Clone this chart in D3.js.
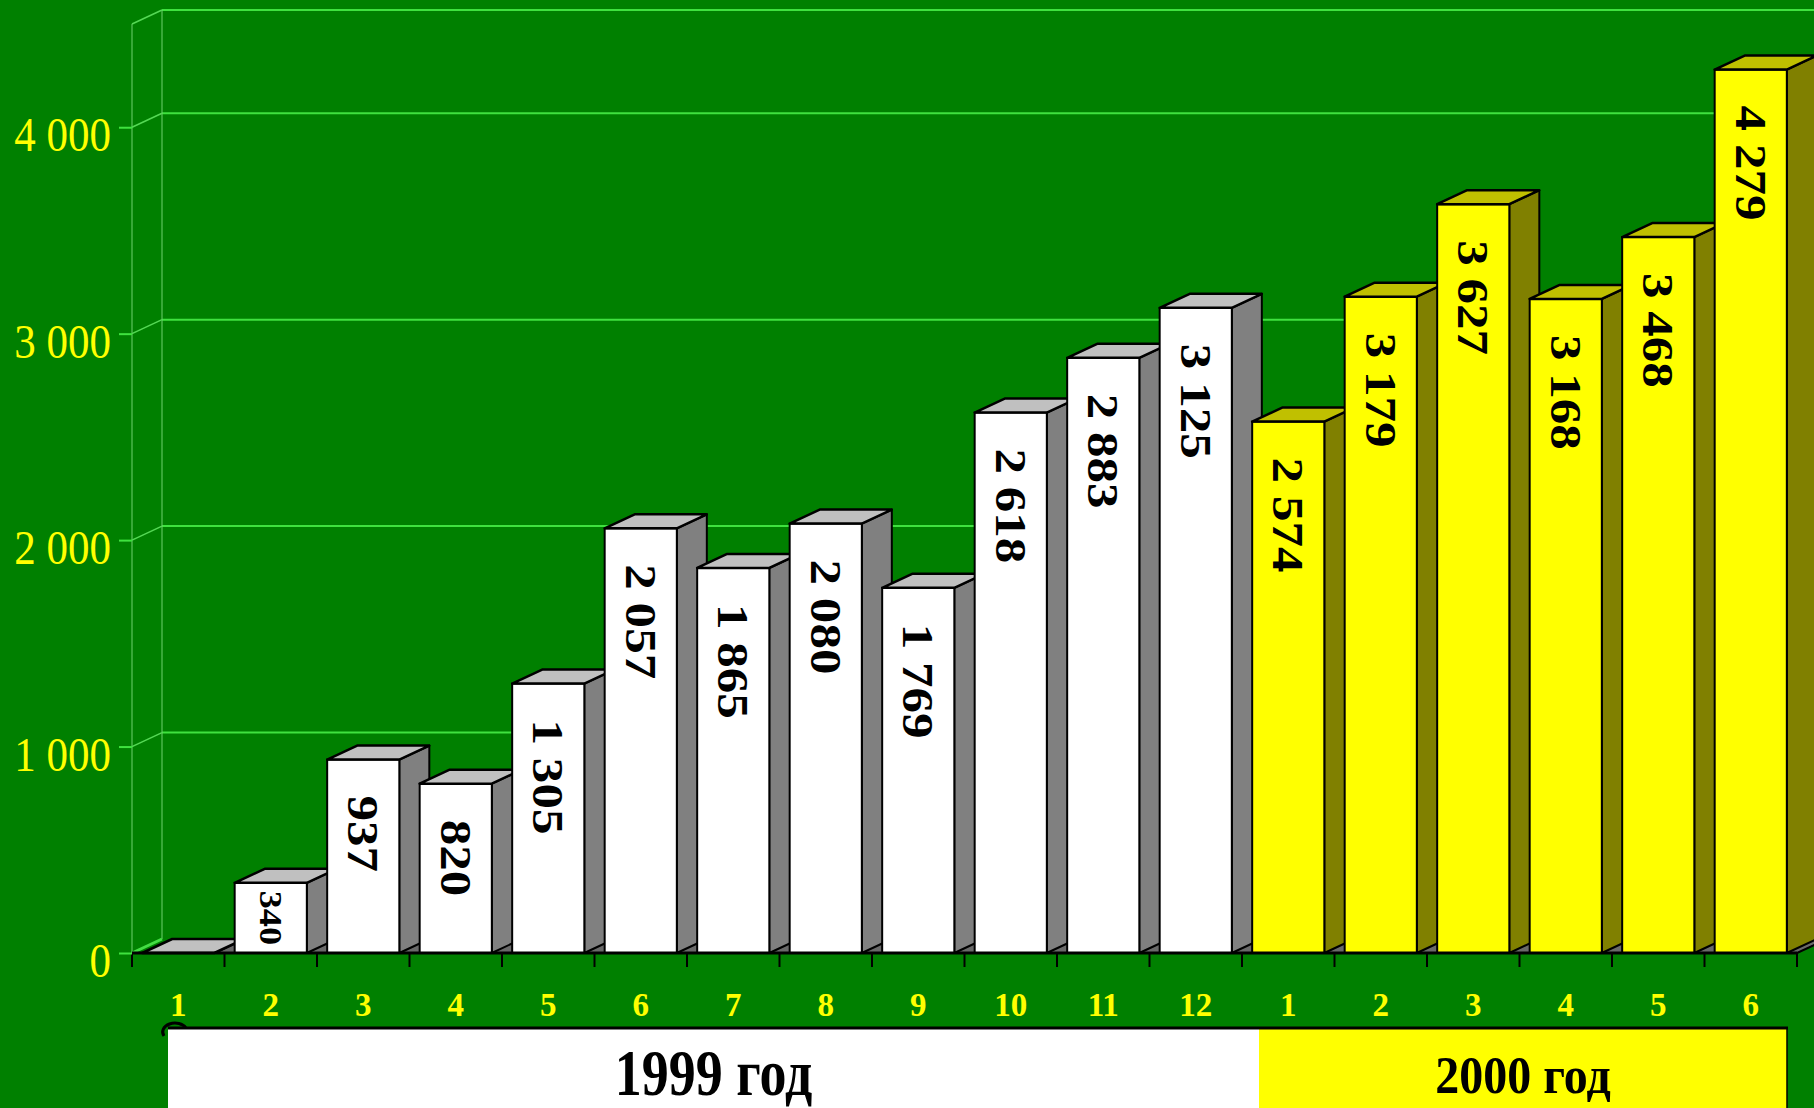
<!DOCTYPE html>
<html>
<head>
<meta charset="utf-8">
<script src="https://cdn.jsdelivr.net/npm/d3@7"></script>
<style>
  html, body { margin: 0; padding: 0; background: #008000; overflow: hidden; }
  svg { display: block; }
</style>
</head>
<body>
<svg id="chart" width="1814" height="1108"></svg>
<script>
// ---------------- DATA ----------------
const months = ["1","2","3","4","5","6","7","8","9","10","11","12","1","2","3","4","5","6"];
const years  = [1999,1999,1999,1999,1999,1999,1999,1999,1999,1999,1999,1999,2000,2000,2000,2000,2000,2000];
const values = [0, 340, 937, 820, 1305, 2057, 1865, 2080, 1769, 2618, 2883, 3125, 2574, 3179, 3627, 3168, 3468, 4279];
const yTicks = [0, 1000, 2000, 3000, 4000];
const yMax = 4500;
const yearLabels = ["1999 год", "2000 год"];

// ---------------- SETUP ----------------
const W = 1814, H = 1108;
const svg = d3.select("#chart");
const FONT = "'Liberation Serif', 'Times New Roman', serif";
const DX = 30, DY = -14;        // 3D depth offset

const x = d3.scaleBand()
  .domain(d3.range(values.length))
  .range([132, 1797])
  .paddingInner(0.22)
  .paddingOuter(0.11);
const y = d3.scaleLinear().domain([0, yMax]).range([953, 24]);

const x0 = x.range()[0], x1 = x.range()[1];
const step = x.step();
const bw = x.bandwidth();
const fmt = d3.formatLocale({decimal: ",", thousands: " ", grouping: [3], currency: ["", ""]}).format(",d");

const palette = {
  1999: {front: "#ffffff", side: "#808080", top: "#c0c0c0"},
  2000: {front: "#ffff00", side: "#808000", top: "#c0c000"}
};

svg.append("rect").attr("width", W).attr("height", H).attr("fill", "#008000");

// ---------------- WALLS / GRID ----------------
const gridVals = yTicks.concat([yMax]);
const walls = svg.append("g");
walls.selectAll("line.grid").data(gridVals.filter(v => v > 0)).join("line")
  .attr("x1", x0 + DX).attr("x2", W)
  .attr("y1", d => y(d) + DY).attr("y2", d => y(d) + DY)
  .attr("stroke", "#3fe23f").attr("stroke-width", 2);
walls.append("line").attr("x1", x0).attr("x2", x0).attr("y1", y(yMax)).attr("y2", y(0))
  .attr("stroke", "#6fd06f").attr("stroke-width", 1);
walls.append("line").attr("x1", x0 + DX).attr("x2", x0 + DX).attr("y1", y(yMax) + DY).attr("y2", y(0) + DY)
  .attr("stroke", "#6fd06f").attr("stroke-width", 1);
walls.selectAll("line.diag").data(gridVals).join("line")
  .attr("x1", x0).attr("x2", x0 + DX)
  .attr("y1", d => y(d)).attr("y2", d => y(d) + DY)
  .attr("stroke", d => d === 0 ? "#44dd44" : "#55d855")
  .attr("stroke-width", d => d === 0 ? 3 : 1.5);

// ---------------- FLOOR ----------------
svg.append("polygon")
  .attr("points", [[x(0), y(0)], [x1, y(0)], [x1 + DX, y(0) + DY], [x(0) + DX, y(0) + DY]].map(p => p.join(",")).join(" "))
  .attr("fill", "#6a6a6a").attr("stroke", "#000").attr("stroke-width", 1);

// ---------------- BARS ----------------
const bars = svg.append("g").selectAll("g.bar").data(values.map((v, i) => ({v, i, yr: years[i]}))).join("g");
const pts = a => a.map(p => p.join(",")).join(" ");
bars.each(function(d) {
  const g = d3.select(this);
  const l = x(d.i), r = l + bw, t = y(d.v), b = y(0);
  const c = palette[d.yr];
  g.append("polygon").attr("points", pts([[r, b], [r + DX, b + DY], [r + DX, t + DY], [r, t]]))
    .attr("fill", c.side).attr("stroke", "#000").attr("stroke-width", 2).attr("stroke-linejoin", "round");
  if (d.v > 0) {
    g.append("rect").attr("x", l).attr("y", t).attr("width", bw).attr("height", b - t)
      .attr("fill", c.front).attr("stroke", "#000").attr("stroke-width", 2);
  }
  g.append("polygon").attr("points", pts([[l, t], [r, t], [r + DX, t + DY], [l + DX, t + DY]]))
    .attr("fill", c.top).attr("stroke", "#000").attr("stroke-width", 2.5).attr("stroke-linejoin", "round");
  if (d.v > 0) {
    const txt = fmt(d.v);
    const em = txt.split("").reduce((s, ch) => s + (ch === " " ? 0.25 : 0.5), 0);
    const stretch = 1.16;
    const h = b - t;
    const size = Math.min(44, (h - 16) / (em * stretch));
    const len = em * size * stretch;
    const pad = Math.min(36, (h - len) / 2);
    const cx = l + bw / 2;
    g.append("text")
      .attr("transform", `translate(${cx},${t + pad}) rotate(90) scale(${stretch},1)`)
      .attr("x", 0).attr("y", 0.34 * size)
      .attr("font-family", FONT).attr("font-weight", "bold").attr("font-size", size)
      .attr("fill", "#000")
      .text(txt);
  }
});

// ---------------- X AXIS ----------------
svg.append("line").attr("x1", x0).attr("x2", x1).attr("y1", y(0)).attr("y2", y(0))
  .attr("stroke", "#000").attr("stroke-width", 3);
svg.append("line").attr("x1", x1).attr("x2", x1 + DX).attr("y1", y(0)).attr("y2", y(0) + DY)
  .attr("stroke", "#000").attr("stroke-width", 2);
svg.append("g").selectAll("line").data(d3.range(values.length + 1)).join("line")
  .attr("x1", i => x0 + i * step).attr("x2", i => x0 + i * step)
  .attr("y1", y(0)).attr("y2", y(0) + 14)
  .attr("stroke", "#000").attr("stroke-width", 2);

const xAxis = svg.append("g").attr("transform", `translate(0,${y(0)})`)
  .call(d3.axisBottom(x).tickSize(0).tickPadding(0).tickFormat(i => months[i]));
xAxis.select(".domain").remove();
xAxis.selectAll("text")
  .attr("y", 63).attr("dy", null)
  .attr("font-family", FONT).attr("font-weight", "bold").attr("font-size", 33)
  .attr("fill", "#ffff00");

// ---------------- Y AXIS ----------------
const yAxis = svg.append("g").attr("transform", `translate(${x0},0)`)
  .call(d3.axisLeft(y).tickValues(yTicks).tickSize(13).tickFormat(fmt));
yAxis.select(".domain").remove();
yAxis.selectAll(".tick line").attr("stroke", "#3fe23f").attr("stroke-width", 2);
yAxis.selectAll("text")
  .attr("x", -21).attr("dy", null).attr("y", 20.6)
  .attr("transform", "scale(1,1.14)")
  .attr("font-family", FONT).attr("font-weight", "normal").attr("font-size", 43)
  .attr("fill", "#ffff00").attr("text-anchor", "end");

// ---------------- YEAR PANEL ----------------
const panelTop = 1029;
const boxes = [
  {label: yearLabels[0], x0: 168, x1: 1259, fill: "#ffffff", size: 54, sy: 1.2, base: 1095},
  {label: yearLabels[1], x0: 1259, x1: 1787, fill: "#ffff00", size: 48, sy: 1.08, base: 1093}
];
const pg = svg.append("g");
pg.selectAll("rect").data(boxes).join("rect")
  .attr("x", d => d.x0).attr("y", panelTop).attr("width", d => d.x1 - d.x0).attr("height", H - panelTop + 5)
  .attr("fill", d => d.fill);
pg.append("line").attr("x1", 168).attr("x2", 1788).attr("y1", panelTop - 1).attr("y2", panelTop - 1)
  .attr("stroke", "#000").attr("stroke-width", 3);
pg.append("line").attr("x1", 1787).attr("x2", 1787).attr("y1", panelTop).attr("y2", H)
  .attr("stroke", "#000").attr("stroke-width", 1.5);
pg.append("path").attr("d", "M164,1036 A11,8 0 0 1 186,1028")
  .attr("fill", "none").attr("stroke", "#000").attr("stroke-width", 3);
pg.selectAll("text").data(boxes).join("text")
  .attr("transform", d => `translate(${(d.x0 + d.x1) / 2},${d.base}) scale(1,${d.sy})`)
  .attr("text-anchor", "middle")
  .attr("font-family", FONT).attr("font-weight", "bold").attr("font-size", d => d.size)
  .attr("fill", "#000")
  .text(d => d.label);
</script>
</body>
</html>
